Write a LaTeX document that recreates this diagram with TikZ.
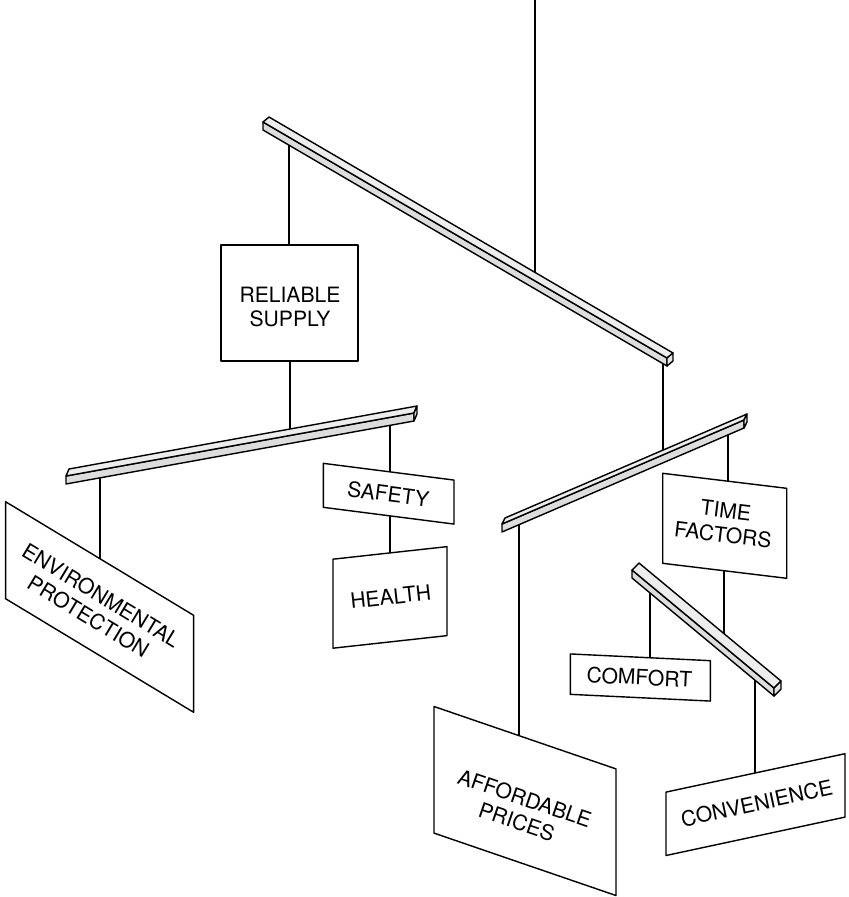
\documentclass[tikz,border=0pt]{standalone}
\usepackage{fontspec}
\setmainfont{TeX Gyre Heros}
\usetikzlibrary{calc}

\tikzset{
	wire/.style={line width=.4pt},
	topface/.style={fill=gray!14, draw, line join=round},
	frontface/.style={fill=gray!27, draw, line join=round},
	capface/.style={fill=gray!20, draw, line join=round},
	board/.style={fill=white, draw, line join=round},
	label/.style={align=center, inner sep=0pt, font=\fontsize{6}{7}\selectfont},
}

% beam: name, left end, right end, depth vector
\newcommand{\beam}[4]{%
	\coordinate (#1-l) at #2;
	\coordinate (#1-r) at #3;
	\filldraw[frontface] (#1-l) -- (#1-r) -- ($(#1-r)+(0,8)$) -- ($(#1-l)+(0,8)$) -- cycle;
	\filldraw[topface] (#1-l) -- (#1-r) -- ($(#1-r)+#4$) -- ($(#1-l)+#4$) -- cycle;
	\filldraw[capface] (#1-r) -- ($(#1-r)+#4$) -- ($(#1-r)+#4+(0,8)$) -- ($(#1-r)+(0,8)$) -- cycle;
}

% board: centre, half width, half height, slope
\newcommand{\board}[4]{%
	\begin{scope}[shift={#1}]
		\filldraw[board] (-#2,{-#3-#2*#4}) -- (#2,{-#3+#2*#4}) -- (#2,{#3+#2*#4}) -- (-#2,{#3-#2*#4}) -- cycle;
	\end{scope}
}

\begin{document}
\begin{tikzpicture}[x=.01cm, y=-.01cm]
	\useasboundingbox (0,0) rectangle (849,897);

	% hooks
	\coordinate (top) at (535,0);
	\coordinate (b1-mid) at (535,272);
	\coordinate (b1-h1) at (289,145);
	\coordinate (b1-h2) at (663,364);
	\coordinate (b2-mid) at (290,429);
	\coordinate (b2-h1) at (100,478);
	\coordinate (b2-h2) at (390,425);
	\coordinate (b3-mid) at (663,450);
	\coordinate (b3-h1) at (519,525);
	\coordinate (b3-h2) at (728,435);
	\coordinate (b4-mid) at (724,634);
	\coordinate (b4-h1) at (650,593);
	\coordinate (b4-h2) at (755,680);
	\coordinate (rel-t) at (289,245);
	\coordinate (rel-b) at (290,361);
	\coordinate (env-t) at (100,559);
	\coordinate (saf-t) at (390,472);
	\coordinate (saf-b) at (390,516);
	\coordinate (hea-t) at (390,553);
	\coordinate (aff-t) at (519,736);
	\coordinate (tim-t) at (728,481);
	\coordinate (tim-b) at (724,571);
	\coordinate (com-t) at (650,658);
	\coordinate (con-t) at (755,773);

	% strings
	\draw[wire] (top) -- (b1-mid);
	\draw[wire] (b1-h1) -- (rel-t);
	\draw[wire] (b1-h2) -- (b3-mid);
	\draw[wire] (rel-b) -- (b2-mid);
	\draw[wire] (b2-h1) -- (env-t);
	\draw[wire] (b2-h2) -- (saf-t);
	\draw[wire] (saf-b) -- (hea-t);
	\draw[wire] (b3-h1) -- (aff-t);
	\draw[wire] (b3-h2) -- (tim-t);
	\draw[wire] (tim-b) -- (b4-mid);
	\draw[wire] (b4-h1) -- (com-t);
	\draw[wire] (b4-h2) -- (con-t);

	% beams
	\beam{b1}{(263,122)}{(667,358)}{(6,-5)}
	\beam{b2}{(66,476)}{(414,413)}{(3,-7)}
	\beam{b3}{(502,524)}{(744,420)}{(3,-6)}
	\beam{b4}{(632,570)}{(774,688)}{(7,-7)}

	% boards
	\board{(289.5,303)}{68.5}{58}{0}
	\node[label] (reliable) at (290,307) {RELIABLE\\SUPPLY};
	\board{(388.7,493.7)}{65.3}{22}{.128}
	\node[label, rotate=-7.3] (safety) at (388.3,494) {SAFETY};
	\board{(390,597.4)}{57}{44.5}{-.11}
	\node[label, rotate=6.3] (health) at (390.7,596.7) {HEALTH};
	\board{(99.6,607)}{94}{48.5}{.604}
	\node[label, rotate=-31.1] (environment) at (94.8,606) {ENVIRONMENTAL\\PROTECTION};
	\board{(724.7,525.8)}{62}{45}{.121}
	\node[label, rotate=-6.9] (time) at (724.4,522.7) {TIME\\FACTORS};
	\board{(640.3,677.5)}{70}{20.2}{.048}
	\node[label, rotate=-2.7] (comfort) at (639.3,677.3) {COMFORT};
	\board{(755.5,804.6)}{89.5}{31.7}{-.2145}
	\node[label, rotate=12.1] (convenience) at (756.7,803.3) {CONVENIENCE};
	\board{(525,801)}{91}{63.3}{.343}
	\node[label, rotate=-18.9] (prices) at (520.8,810) {AFFORDABLE\\PRICES};
\end{tikzpicture}
\end{document}
